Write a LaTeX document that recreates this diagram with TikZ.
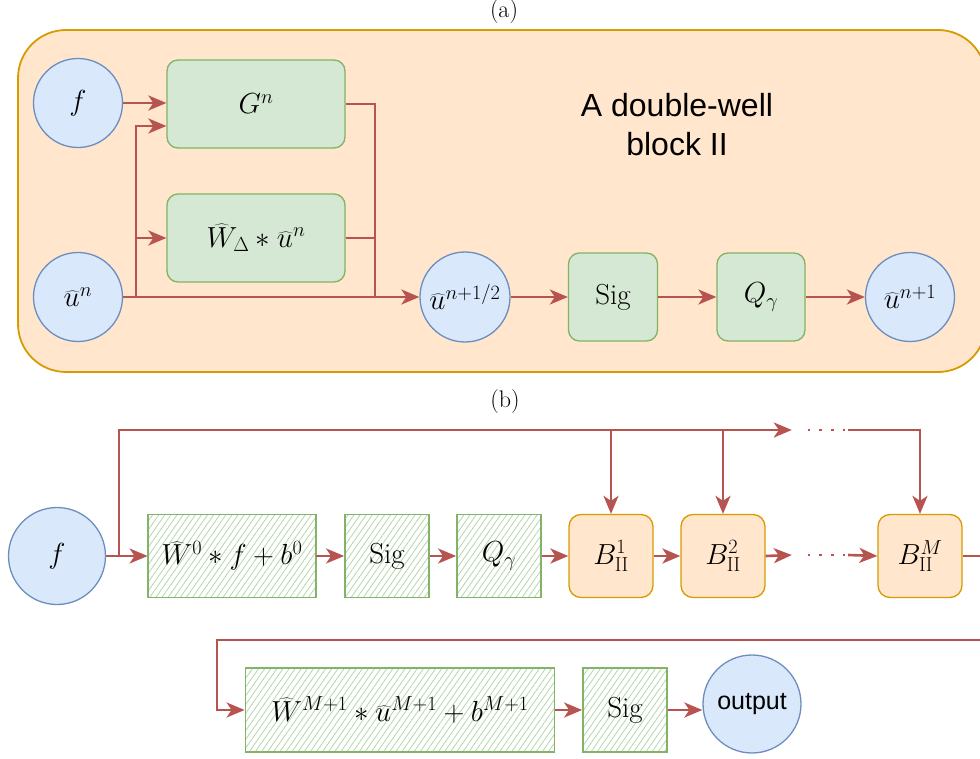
\documentclass[tikz,border=0pt]{standalone}
\usepackage{fix-cm}
\usepackage{fontspec}
\newfontfamily\arialfont{Liberation Sans}
\usetikzlibrary{arrows.meta,patterns.meta}
\definecolor{linkred}{HTML}{B85450}
\definecolor{bluefill}{HTML}{DAE8FC}
\definecolor{bluedraw}{HTML}{6C8EBF}
\definecolor{greenfill}{HTML}{D5E8D4}
\definecolor{greendraw}{HTML}{82B366}
\definecolor{hatchgreen}{HTML}{B2D6AA}
\definecolor{orangefill}{HTML}{FFE6CC}
\definecolor{orangedraw}{HTML}{D79B00}
\begin{document}
\begin{tikzpicture}[x=1pt, y=-1pt, >={Stealth[length=18pt,width=15pt,inset=5pt]},
    every node/.style={font=\fontsize{29}{33}\selectfont, inner sep=0pt},
    link/.style={->, draw=linkred, line width=2.6pt},
    wire/.style={draw=linkred, line width=2.6pt},
    dotwire/.style={draw=linkred, line width=2.6pt, dash pattern=on 2.6pt off 9pt},
    var/.style={circle, draw=bluedraw, fill=bluefill, line width=1.3pt, minimum size=89pt},
    op/.style={rectangle, rounded corners=11pt, draw=greendraw, fill=greenfill, line width=1.3pt, minimum height=88pt},
    blk/.style={rectangle, rounded corners=12pt, draw=orangedraw, fill=orangefill, line width=1.3pt, minimum width=84pt, minimum height=83pt},
    hatchbox/.style={rectangle, draw=greendraw, line width=1.8pt, pattern={Lines[angle=55,distance=5pt,line width=0.8pt]}, pattern color=hatchgreen, minimum height=83pt},
    sublabel/.style={font=\fontsize{24}{28}\selectfont}]
  \useasboundingbox (0,0) rectangle (980,759);
  \clip (0,0) rectangle (980,759);

  % 1. 子图 (a)：背景块
  \node[sublabel] (lbla) at (504,12) {(a)};
  \node[rectangle, rounded corners=48pt, draw=orangedraw, fill=orangefill, line width=1.8pt,
        minimum width=968pt, minimum height=342pt] (frame) at (502,201) {};
  \node[align=center, font=\arialfont\fontsize{32}{39}\selectfont] (title) at (677,125) {A double-well\\block II};

  % 2. 子图 (a)：节点
  \node[var] (f) at (78,103) {$f$};
  \node[var] (un) at (78,297) {$\widehat{u}^{n}$};
  \node[op, minimum width=178pt] (G) at (256,104) {$G^{n}$};
  \node[op, minimum width=178pt] (W) at (256,238) {$\widehat{W}_{\Delta} * \widehat{u}^{n}$};
  \node[var, minimum size=90pt] (uh) at (465,297) {$\widehat{u}^{n+1/2}$};
  \node[op, minimum width=89pt] (sig) at (613,297) {Sig};
  \node[op, minimum width=88pt] (Q) at (761,297) {$Q_{\gamma}$};
  \node[var] (un1) at (910,297) {$\widehat{u}^{n+1}$};

  % 3. 子图 (a)：连线
  \coordinate (s1) at (136,297);
  \coordinate (j1) at (375,297);
  \draw[link] (f.east) -- (f.east -| G.west);
  \draw[link] (un.east) -- (uh.west);
  \draw[link] (s1) |- ([yshift=-22pt]G.west);
  \draw[link] (s1 |- W.west) -- (W.west);
  \draw[wire] (G.east) -| (j1);
  \draw[wire] (W.east) -- (W.east -| j1);
  \draw[link] (uh) -- (sig);
  \draw[link] (sig) -- (Q);
  \draw[link] (Q) -- (un1);

  % 4. 子图 (b)：节点
  \node[sublabel] (lblb) at (505,402) {(b)};
  \node[var, minimum size=97pt] (f2) at (57,556) {$f$};
  \node[hatchbox, minimum width=168pt] (w0) at (232,556) {$\widehat{W}^{0} * f + b^{0}$};
  \node[hatchbox, minimum width=84pt] (sig2) at (387,556) {Sig};
  \node[hatchbox, minimum width=84pt] (q2) at (499,556) {$Q_{\gamma}$};
  \node[blk] (b1) at (611,556) {$B^{1}_{\mathrm{II}}$};
  \node[blk] (b2) at (723,556) {$B^{2}_{\mathrm{II}}$};
  \node[minimum width=56pt] (dmid) at (820,555) {};
  \node[minimum width=56pt] (dtop) at (820,430) {};
  \node[blk] (bm) at (920,556) {$B^{M}_{\mathrm{II}}$};
  \node[hatchbox, minimum width=309pt, minimum height=84pt] (wm) at (400,710) {$\widehat{W}^{M+1} * \widehat{u}^{M+1} + b^{M+1}$};
  \node[hatchbox, minimum width=84pt, minimum height=84pt] (sig3) at (625,710) {Sig};
  \node[var, minimum size=98pt, font=\arialfont\fontsize{25}{30}\selectfont] (out) at (752,704) {output};

  % 5. 子图 (b)：连线
  \coordinate (sp) at (119,556);
  \coordinate (lt) at (217,640);
  \draw[link] (f2) -- (w0);
  \draw[link] (sp) |- (dtop.west);
  \draw[dotwire] ([xshift=16pt]dtop.west) -- ([xshift=-2pt]dtop.east);
  \draw[link] (dtop.east) -| (bm.north);
  \draw[link] (b1.north |- dtop) -- (b1.north);
  \draw[link] (b2.north |- dtop) -- (b2.north);
  \draw[link] (w0) -- (sig2);
  \draw[link] (sig2) -- (q2);
  \draw[link] (q2) -- (b1);
  \draw[link] (b1) -- (b2);
  \draw[link] (b2.east) -- (dmid.west);
  \draw[dotwire] ([xshift=16pt]dmid.west) -- ([xshift=-2pt]dmid.east);
  \draw[link] (dmid.east) -- (bm.west);
  \draw[link] (bm.east) -- ++(40,0) |- (lt) |- (wm.west);
  \draw[link] (wm) -- (sig3);
  \draw[link] (sig3.east) -- (sig3.east -| out.west);
\end{tikzpicture}
\end{document}
